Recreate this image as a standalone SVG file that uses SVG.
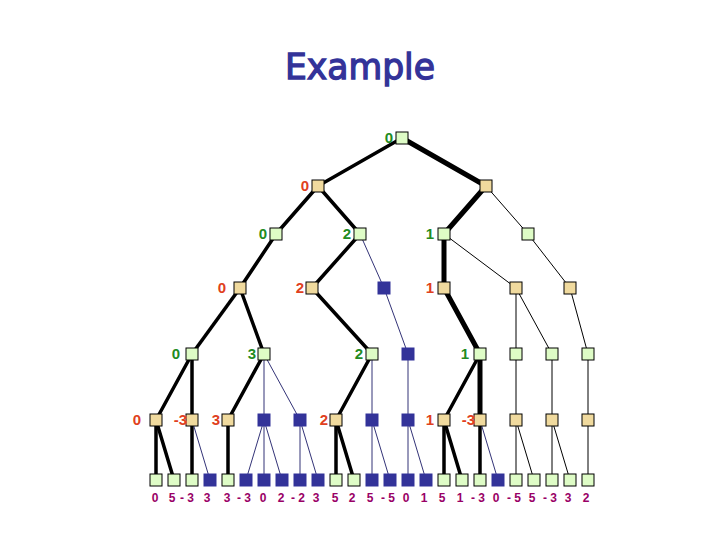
<svg xmlns="http://www.w3.org/2000/svg" width="720" height="540" viewBox="0 0 720 540">
<style>
.g{fill:#defcc6;stroke:#000;stroke-width:1}
.t{fill:#f0da9e;stroke:#000;stroke-width:1}
.b{fill:#333399;stroke:#333399;stroke-width:1}
.k{stroke:#000;stroke-width:3.5;fill:none;stroke-linecap:round}
.p{stroke:#000;stroke-width:5;fill:none;stroke-linecap:round}
.n{stroke:#000;stroke-width:1;fill:none}
.v{stroke:#333377;stroke-width:1;fill:none}
.lg{font-family:"Liberation Sans",Arial,sans-serif;font-weight:bold;font-size:15px;fill:#228B22;text-anchor:end}
.lr{font-family:"Liberation Sans",Arial,sans-serif;font-weight:bold;font-size:15px;fill:#e04020;text-anchor:end}
.lf{font-family:"Liberation Sans",Arial,sans-serif;font-weight:bold;font-size:12px;fill:#990066;text-anchor:middle}
.ttl{font-family:"DejaVu Sans",sans-serif;font-size:35px;fill:#333399;stroke:#333399;stroke-width:1.3;text-anchor:middle}
</style>
<rect width="720" height="540" fill="#fff"/>
<text class="ttl" x="360" y="79" textLength="150" lengthAdjust="spacingAndGlyphs">Example</text>
<g id="connectors">
<line class="k" x1="402" y1="138" x2="318" y2="186"/>
<line class="p" x1="402" y1="138" x2="486" y2="186"/>
<line class="k" x1="318" y1="186" x2="276" y2="234"/>
<line class="k" x1="318" y1="186" x2="360" y2="234"/>
<line class="p" x1="486" y1="186" x2="444" y2="234"/>
<line class="n" x1="486" y1="186" x2="528" y2="234"/>
<line class="k" x1="276" y1="234" x2="240" y2="288"/>
<line class="k" x1="360" y1="234" x2="312" y2="288"/>
<line class="v" x1="360" y1="234" x2="384" y2="288"/>
<line class="p" x1="444" y1="234" x2="444" y2="288"/>
<line class="n" x1="444" y1="234" x2="516" y2="288"/>
<line class="n" x1="528" y1="234" x2="570" y2="288"/>
<line class="k" x1="240" y1="288" x2="192" y2="354"/>
<line class="k" x1="240" y1="288" x2="264" y2="354"/>
<line class="k" x1="312" y1="288" x2="372" y2="354"/>
<line class="v" x1="384" y1="288" x2="408" y2="354"/>
<line class="p" x1="444" y1="288" x2="480" y2="354"/>
<line class="n" x1="516" y1="288" x2="516" y2="354"/>
<line class="n" x1="516" y1="288" x2="552" y2="354"/>
<line class="n" x1="570" y1="288" x2="588" y2="354"/>
<line class="k" x1="192" y1="354" x2="156" y2="420"/>
<line class="k" x1="192" y1="354" x2="192" y2="420"/>
<line class="k" x1="264" y1="354" x2="228" y2="420"/>
<line class="v" x1="264" y1="354" x2="264" y2="420"/>
<line class="v" x1="264" y1="354" x2="300" y2="420"/>
<line class="k" x1="372" y1="354" x2="336" y2="420"/>
<line class="v" x1="372" y1="354" x2="372" y2="420"/>
<line class="v" x1="408" y1="354" x2="408" y2="420"/>
<line class="k" x1="480" y1="354" x2="444" y2="420"/>
<line class="p" x1="480" y1="354" x2="480" y2="420"/>
<line class="n" x1="516" y1="354" x2="516" y2="420"/>
<line class="n" x1="552" y1="354" x2="552" y2="420"/>
<line class="n" x1="588" y1="354" x2="588" y2="420"/>
<line class="k" x1="156" y1="420" x2="156" y2="480"/>
<line class="k" x1="156" y1="420" x2="174" y2="480"/>
<line class="k" x1="192" y1="420" x2="192" y2="480"/>
<line class="v" x1="192" y1="420" x2="210" y2="480"/>
<line class="k" x1="228" y1="420" x2="228" y2="480"/>
<line class="v" x1="264" y1="420" x2="246" y2="480"/>
<line class="v" x1="264" y1="420" x2="264" y2="480"/>
<line class="v" x1="264" y1="420" x2="282" y2="480"/>
<line class="v" x1="300" y1="420" x2="300" y2="480"/>
<line class="v" x1="300" y1="420" x2="318" y2="480"/>
<line class="k" x1="336" y1="420" x2="336" y2="480"/>
<line class="k" x1="336" y1="420" x2="354" y2="480"/>
<line class="v" x1="372" y1="420" x2="372" y2="480"/>
<line class="v" x1="372" y1="420" x2="390" y2="480"/>
<line class="v" x1="408" y1="420" x2="408" y2="480"/>
<line class="v" x1="408" y1="420" x2="426" y2="480"/>
<line class="k" x1="444" y1="420" x2="444" y2="480"/>
<line class="k" x1="444" y1="420" x2="462" y2="480"/>
<line class="k" x1="480" y1="420" x2="480" y2="480"/>
<line class="v" x1="480" y1="420" x2="498" y2="480"/>
<line class="n" x1="516" y1="420" x2="516" y2="480"/>
<line class="n" x1="516" y1="420" x2="534" y2="480"/>
<line class="n" x1="552" y1="420" x2="552" y2="480"/>
<line class="n" x1="552" y1="420" x2="570" y2="480"/>
<line class="n" x1="588" y1="420" x2="588" y2="480"/>
</g>
<g id="n_root"><rect class="g" x="396" y="132" width="12" height="12"/><text class="lg" x="393" y="143">0</text></g>
<g id="n1a"><rect class="t" x="312" y="180" width="12" height="12"/><text class="lr" x="309" y="191">0</text></g>
<g id="n1b"><rect class="t" x="480" y="180" width="12" height="12"/></g>
<g id="n2a"><rect class="g" x="270" y="228" width="12" height="12"/><text class="lg" x="267" y="239">0</text></g>
<g id="n2b"><rect class="g" x="354" y="228" width="12" height="12"/><text class="lg" x="351" y="239">2</text></g>
<g id="n2c"><rect class="g" x="438" y="228" width="12" height="12"/><text class="lg" x="434" y="239">1</text></g>
<g id="n2d"><rect class="g" x="522" y="228" width="12" height="12"/></g>
<g id="n3a"><rect class="t" x="234" y="282" width="12" height="12"/><text class="lr" x="226" y="293">0</text></g>
<g id="n3b"><rect class="t" x="306" y="282" width="12" height="12"/><text class="lr" x="304" y="293">2</text></g>
<g id="n3c"><rect class="b" x="378" y="282" width="12" height="12"/></g>
<g id="n3d"><rect class="t" x="438" y="282" width="12" height="12"/><text class="lr" x="434" y="293">1</text></g>
<g id="n3e"><rect class="t" x="510" y="282" width="12" height="12"/></g>
<g id="n3f"><rect class="t" x="564" y="282" width="12" height="12"/></g>
<g id="n4a"><rect class="g" x="186" y="348" width="12" height="12"/><text class="lg" x="180" y="359">0</text></g>
<g id="n4b"><rect class="g" x="258" y="348" width="12" height="12"/><text class="lg" x="256" y="359">3</text></g>
<g id="n4c"><rect class="g" x="366" y="348" width="12" height="12"/><text class="lg" x="363" y="359">2</text></g>
<g id="n4d"><rect class="b" x="402" y="348" width="12" height="12"/></g>
<g id="n4e"><rect class="g" x="474" y="348" width="12" height="12"/><text class="lg" x="469" y="359">1</text></g>
<g id="n4f"><rect class="g" x="510" y="348" width="12" height="12"/></g>
<g id="n4g"><rect class="g" x="546" y="348" width="12" height="12"/></g>
<g id="n4h"><rect class="g" x="582" y="348" width="12" height="12"/></g>
<g id="n5a"><rect class="t" x="150" y="414" width="12" height="12"/><text class="lr" x="141" y="425">0</text></g>
<g id="n5b"><rect class="t" x="186" y="414" width="12" height="12"/><text class="lr" x="187" y="425">-3</text></g>
<g id="n5c"><rect class="t" x="222" y="414" width="12" height="12"/><text class="lr" x="220" y="425">3</text></g>
<g id="n5d"><rect class="b" x="258" y="414" width="12" height="12"/></g>
<g id="n5e"><rect class="b" x="294" y="414" width="12" height="12"/></g>
<g id="n5f"><rect class="t" x="330" y="414" width="12" height="12"/><text class="lr" x="328" y="425">2</text></g>
<g id="n5g"><rect class="b" x="366" y="414" width="12" height="12"/></g>
<g id="n5h"><rect class="b" x="402" y="414" width="12" height="12"/></g>
<g id="n5i"><rect class="t" x="438" y="414" width="12" height="12"/><text class="lr" x="434" y="425">1</text></g>
<g id="n5j"><rect class="t" x="474" y="414" width="12" height="12"/><text class="lr" x="475" y="425">-3</text></g>
<g id="n5k"><rect class="t" x="510" y="414" width="12" height="12"/></g>
<g id="n5l"><rect class="t" x="546" y="414" width="12" height="12"/></g>
<g id="n5m"><rect class="t" x="582" y="414" width="12" height="12"/></g>
<g id="l00"><rect class="g" x="150" y="474" width="12" height="12"/><text class="lf" x="155" y="502">0</text></g>
<g id="l01"><rect class="g" x="168" y="474" width="12" height="12"/><text class="lf" x="172" y="502">5</text></g>
<g id="l02"><rect class="g" x="186" y="474" width="12" height="12"/><text class="lf" x="187" y="502">- 3</text></g>
<g id="l03"><rect class="b" x="204" y="474" width="12" height="12"/><text class="lf" x="207" y="502">3</text></g>
<g id="l04"><rect class="g" x="222" y="474" width="12" height="12"/><text class="lf" x="227" y="502">3</text></g>
<g id="l05"><rect class="b" x="240" y="474" width="12" height="12"/><text class="lf" x="244" y="502">- 3</text></g>
<g id="l06"><rect class="b" x="258" y="474" width="12" height="12"/><text class="lf" x="263" y="502">0</text></g>
<g id="l07"><rect class="b" x="276" y="474" width="12" height="12"/><text class="lf" x="281" y="502">2</text></g>
<g id="l08"><rect class="b" x="294" y="474" width="12" height="12"/><text class="lf" x="298" y="502">- 2</text></g>
<g id="l09"><rect class="b" x="312" y="474" width="12" height="12"/><text class="lf" x="316" y="502">3</text></g>
<g id="l10"><rect class="g" x="330" y="474" width="12" height="12"/><text class="lf" x="335" y="502">5</text></g>
<g id="l11"><rect class="g" x="348" y="474" width="12" height="12"/><text class="lf" x="352" y="502">2</text></g>
<g id="l12"><rect class="b" x="366" y="474" width="12" height="12"/><text class="lf" x="370" y="502">5</text></g>
<g id="l13"><rect class="b" x="384" y="474" width="12" height="12"/><text class="lf" x="388" y="502">- 5</text></g>
<g id="l14"><rect class="b" x="402" y="474" width="12" height="12"/><text class="lf" x="406" y="502">0</text></g>
<g id="l15"><rect class="b" x="420" y="474" width="12" height="12"/><text class="lf" x="424" y="502">1</text></g>
<g id="l16"><rect class="g" x="438" y="474" width="12" height="12"/><text class="lf" x="442" y="502">5</text></g>
<g id="l17"><rect class="g" x="456" y="474" width="12" height="12"/><text class="lf" x="460" y="502">1</text></g>
<g id="l18"><rect class="g" x="474" y="474" width="12" height="12"/><text class="lf" x="478" y="502">- 3</text></g>
<g id="l19"><rect class="b" x="492" y="474" width="12" height="12"/><text class="lf" x="496" y="502">0</text></g>
<g id="l20"><rect class="g" x="510" y="474" width="12" height="12"/><text class="lf" x="514" y="502">- 5</text></g>
<g id="l21"><rect class="g" x="528" y="474" width="12" height="12"/><text class="lf" x="532" y="502">5</text></g>
<g id="l22"><rect class="g" x="546" y="474" width="12" height="12"/><text class="lf" x="550" y="502">- 3</text></g>
<g id="l23"><rect class="g" x="564" y="474" width="12" height="12"/><text class="lf" x="568" y="502">3</text></g>
<g id="l24"><rect class="g" x="582" y="474" width="12" height="12"/><text class="lf" x="586" y="502">2</text></g>
</svg>
